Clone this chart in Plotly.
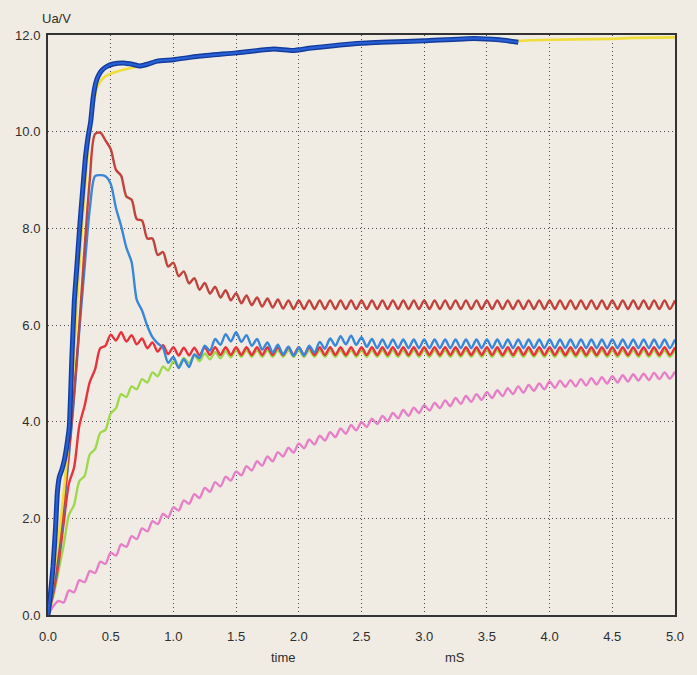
import plotly.graph_objects as go

# shared time grid for rippled traces (ms)
T = [0, 0.042, 0.083, 0.125, 0.167, 0.208, 0.25, 0.292, 0.333, 0.375,
     0.417, 0.458, 0.5, 0.542, 0.583, 0.625, 0.667, 0.708, 0.75, 0.792,
     0.833, 0.875, 0.917, 0.958, 1.0, 1.042, 1.083, 1.125, 1.167, 1.208,
     1.25, 1.292, 1.333, 1.375, 1.417, 1.458, 1.5, 1.542, 1.583, 1.625,
     1.667, 1.708, 1.75, 1.792, 1.833, 1.875, 1.917, 1.958, 2.0, 2.042,
     2.083, 2.125, 2.167, 2.208, 2.25, 2.292, 2.333, 2.375, 2.417, 2.458,
     2.5, 2.542, 2.583, 2.625, 2.667, 2.708, 2.75, 2.792, 2.833, 2.875,
     2.917, 2.958, 3.0, 3.042, 3.083, 3.125, 3.167, 3.208, 3.25, 3.292,
     3.333, 3.375, 3.417, 3.458, 3.5, 3.542, 3.583, 3.625, 3.667, 3.708,
     3.75, 3.792, 3.833, 3.875, 3.917, 3.958, 4.0, 4.042, 4.083, 4.125,
     4.167, 4.208, 4.25, 4.292, 4.333, 4.375, 4.417, 4.458, 4.5, 4.542,
     4.583, 4.625, 4.667, 4.708, 4.75, 4.792, 4.833, 4.875, 4.917, 4.958, 5.0]

pink = [0.0, 0.18, 0.29, 0.26, 0.51, 0.47, 0.72, 0.68, 0.91, 0.87,
        1.10, 1.06, 1.29, 1.23, 1.46, 1.41, 1.63, 1.57, 1.79, 1.73,
        1.94, 1.88, 2.09, 2.02, 2.23, 2.16, 2.37, 2.30, 2.50, 2.42,
        2.63, 2.55, 2.75, 2.66, 2.86, 2.78, 2.97, 2.89, 3.08, 2.99,
        3.18, 3.09, 3.28, 3.18, 3.37, 3.28, 3.46, 3.36, 3.55, 3.45,
        3.63, 3.53, 3.71, 3.61, 3.78, 3.68, 3.86, 3.75, 3.93, 3.82,
        3.99, 3.89, 4.06, 3.95, 4.12, 4.01, 4.18, 4.07, 4.24, 4.12,
        4.29, 4.18, 4.34, 4.23, 4.39, 4.28, 4.44, 4.32, 4.49, 4.37,
        4.53, 4.41, 4.57, 4.45, 4.61, 4.49, 4.65, 4.53, 4.69, 4.57,
        4.73, 4.60, 4.76, 4.64, 4.79, 4.67, 4.83, 4.70, 4.85, 4.72,
        4.86, 4.73, 4.88, 4.75, 4.90, 4.77, 4.92, 4.79, 4.94, 4.81,
        4.96, 4.83, 4.98, 4.85, 4.99, 4.86, 5.01, 4.88, 5.02, 4.89, 5.04]

green = [0.0, 0.38, 0.90, 1.44, 2.07, 2.28, 2.77, 2.88, 3.32, 3.43,
         3.77, 3.83, 4.17, 4.28, 4.57, 4.51, 4.73, 4.67, 4.88, 4.81,
         5.02, 4.94, 5.14, 5.06, 5.25, 5.15, 5.32, 5.21, 5.37, 5.25,
         5.41, 5.29, 5.44, 5.31, 5.46, 5.33, 5.48, 5.34, 5.48, 5.34,
         5.48, 5.34, 5.48, 5.34, 5.48, 5.34, 5.48, 5.34, 5.48, 5.34,
         5.48, 5.34, 5.48, 5.34, 5.48, 5.34, 5.48, 5.34, 5.48, 5.34,
         5.48, 5.34, 5.48, 5.34, 5.48, 5.34, 5.48, 5.34, 5.48, 5.34,
         5.48, 5.34, 5.48, 5.34, 5.48, 5.34, 5.48, 5.34, 5.48, 5.34,
         5.48, 5.34, 5.48, 5.34, 5.48, 5.34, 5.48, 5.34, 5.48, 5.34,
         5.48, 5.34, 5.48, 5.34, 5.48, 5.34, 5.48, 5.34, 5.48, 5.34,
         5.48, 5.34, 5.48, 5.34, 5.48, 5.34, 5.48, 5.34, 5.48, 5.34,
         5.48, 5.34, 5.48, 5.34, 5.48, 5.34, 5.48, 5.34, 5.48, 5.34, 5.48]

red = [0.0, 0.45, 1.05, 1.90, 2.72, 3.05, 3.92, 4.33, 4.82, 5.08,
       5.52, 5.57, 5.80, 5.68, 5.85, 5.66, 5.79, 5.60, 5.72, 5.52,
       5.64, 5.45, 5.58, 5.40, 5.54, 5.37, 5.53, 5.37, 5.53, 5.37,
       5.54, 5.38, 5.54, 5.38, 5.54, 5.38, 5.54, 5.38, 5.54, 5.38,
       5.54, 5.38, 5.54, 5.38, 5.54, 5.38, 5.54, 5.38, 5.54, 5.38,
       5.54, 5.38, 5.54, 5.38, 5.54, 5.38, 5.54, 5.38, 5.54, 5.38,
       5.54, 5.38, 5.54, 5.38, 5.54, 5.38, 5.54, 5.38, 5.54, 5.38,
       5.54, 5.38, 5.54, 5.38, 5.54, 5.38, 5.54, 5.38, 5.54, 5.38,
       5.54, 5.38, 5.54, 5.38, 5.54, 5.38, 5.54, 5.38, 5.54, 5.38,
       5.54, 5.38, 5.54, 5.38, 5.54, 5.38, 5.54, 5.38, 5.54, 5.38,
       5.54, 5.38, 5.54, 5.38, 5.54, 5.38, 5.54, 5.38, 5.54, 5.38,
       5.54, 5.38, 5.54, 5.38, 5.54, 5.38, 5.54, 5.38, 5.54, 5.38, 5.54]

light_blue = [0.0, 0.50, 1.20, 2.20, 3.30, 4.50, 5.90, 7.20, 8.40, 9.08,
              9.10, 9.08, 8.92, 8.42, 8.05, 7.60, 7.30, 6.52, 6.30, 5.98,
              5.75, 5.62, 5.53, 5.22, 5.34, 5.11, 5.29, 5.13, 5.39, 5.31,
              5.57, 5.47, 5.71, 5.59, 5.81, 5.66, 5.85, 5.65, 5.79, 5.57,
              5.71, 5.49, 5.64, 5.43, 5.59, 5.39, 5.55, 5.36, 5.54, 5.37,
              5.57, 5.43, 5.65, 5.51, 5.72, 5.57, 5.77, 5.60, 5.78, 5.59,
              5.75, 5.55, 5.71, 5.52, 5.70, 5.52, 5.70, 5.52, 5.70, 5.52,
              5.70, 5.52, 5.70, 5.52, 5.70, 5.52, 5.70, 5.52, 5.70, 5.52,
              5.70, 5.52, 5.70, 5.52, 5.70, 5.52, 5.70, 5.52, 5.70, 5.52,
              5.70, 5.52, 5.70, 5.52, 5.70, 5.52, 5.70, 5.52, 5.70, 5.52,
              5.70, 5.52, 5.70, 5.52, 5.70, 5.52, 5.70, 5.52, 5.70, 5.52,
              5.70, 5.52, 5.70, 5.52, 5.70, 5.52, 5.70, 5.52, 5.70, 5.52, 5.70]

dark_red = [0.0, 0.55, 1.30, 2.30, 3.40, 4.60, 6.00, 7.60, 9.00, 9.95,
            9.98, 9.82, 9.64, 9.21, 9.09, 8.66, 8.59, 8.19, 8.16, 7.79,
            7.79, 7.45, 7.51, 7.21, 7.29, 7.01, 7.11, 6.86, 6.97, 6.73,
            6.87, 6.65, 6.79, 6.57, 6.72, 6.51, 6.66, 6.45, 6.61, 6.41,
            6.57, 6.38, 6.55, 6.36, 6.53, 6.34, 6.51, 6.33, 6.51, 6.33,
            6.51, 6.33, 6.51, 6.33, 6.51, 6.33, 6.51, 6.33, 6.51, 6.33,
            6.51, 6.33, 6.51, 6.33, 6.51, 6.33, 6.51, 6.33, 6.51, 6.33,
            6.51, 6.33, 6.51, 6.33, 6.51, 6.33, 6.51, 6.33, 6.51, 6.33,
            6.51, 6.33, 6.51, 6.33, 6.51, 6.33, 6.51, 6.33, 6.51, 6.33,
            6.51, 6.33, 6.51, 6.33, 6.51, 6.33, 6.51, 6.33, 6.51, 6.33,
            6.51, 6.33, 6.51, 6.33, 6.51, 6.33, 6.51, 6.33, 6.51, 6.33,
            6.51, 6.33, 6.51, 6.33, 6.51, 6.33, 6.51, 6.33, 6.51, 6.33, 6.51]

yellow_t = [0, 0.03, 0.06, 0.09, 0.12, 0.15, 0.18, 0.21, 0.24, 0.27, 0.30,
            0.33, 0.36, 0.39, 0.42, 0.46, 0.5, 0.6, 0.7, 0.8, 0.9, 1.0,
            1.2, 1.5, 1.8, 1.95, 2.1, 2.5, 3.0, 3.4, 3.6, 3.75, 3.85, 4.2,
            4.5, 4.65, 5.0]
yellow_v = [0, 0.5, 1.1, 1.7, 2.4, 3.2, 4.2, 5.5, 6.8, 8.0, 9.0,
            9.9, 10.5, 10.9, 11.05, 11.15, 11.2, 11.28, 11.34, 11.4, 11.46, 11.5,
            11.56, 11.63, 11.7, 11.68, 11.72, 11.83, 11.88, 11.92, 11.9, 11.88, 11.89, 11.91,
            11.92, 11.94, 11.95]

blue_t = [0, 0.02, 0.04, 0.06, 0.075, 0.09, 0.11, 0.13, 0.15, 0.17, 0.19,
          0.21, 0.23, 0.255, 0.28, 0.3, 0.32, 0.34, 0.36, 0.38, 0.40, 0.43,
          0.47, 0.52, 0.6, 0.68, 0.73, 0.8, 0.87, 1.0, 1.2, 1.5, 1.8, 1.95,
          2.1, 2.5, 3.0, 3.4, 3.6, 3.75]
blue_v = [0, 0.45, 1.0, 1.8, 2.55, 2.85, 3.0, 3.2, 3.5, 3.9, 5.3,
          6.5, 7.2, 8.1, 8.9, 9.5, 9.9, 10.2, 10.7, 11.0, 11.15, 11.27,
          11.35, 11.4, 11.42, 11.39, 11.36, 11.4, 11.46, 11.49, 11.56, 11.63, 11.71, 11.68,
          11.73, 11.83, 11.88, 11.93, 11.9, 11.85]

y_ticks = [0, 2, 4, 6, 8, 10, 12]
x_ticks = [0, 0.5, 1.0, 1.5, 2.0, 2.5, 3.0, 3.5, 4.0, 4.5, 5.0]

BG = "#f0ece3"
fig = go.Figure()

def rip(y, color, width=2.4):
    fig.add_trace(go.Scatter(x=T, y=y, mode="lines",
                             line=dict(color=color, width=width, shape="spline", smoothing=0.8),
                             hoverinfo="skip", showlegend=False))

rip(pink, "#e67fc8")
rip(green, "#9fd84e")
rip(red, "#e8323c")
rip(light_blue, "#3a86d8")
rip(dark_red, "#c0433d")

fig.add_trace(go.Scatter(x=yellow_t, y=yellow_v, mode="lines",
                         line=dict(color="#f0dc3a", width=2.6, shape="spline", smoothing=0.5),
                         hoverinfo="skip", showlegend=False))
fig.add_trace(go.Scatter(x=blue_t, y=blue_v, mode="lines",
                         line=dict(color="#123c9c", width=5, shape="spline", smoothing=0.5),
                         hoverinfo="skip", showlegend=False))
fig.add_trace(go.Scatter(x=blue_t, y=blue_v, mode="lines",
                         line=dict(color="#2a60d6", width=2.2, shape="spline", smoothing=0.5),
                         hoverinfo="skip", showlegend=False))

font = dict(family="Liberation Sans Narrow, Liberation Sans, Arial", size=13, color="#2e2e2e")

grid = dict(showgrid=True, gridcolor="#4a4a4a", griddash="1px,3px", gridwidth=1,
            zeroline=False, showline=True, linecolor="#333333", linewidth=2,
            mirror=True, ticks="", fixedrange=True)

fig.update_layout(
    width=697, height=675,
    margin=dict(l=48, r=22, t=35, b=60),
    paper_bgcolor=BG, plot_bgcolor=BG,
    font=font,
    showlegend=False,
    xaxis=dict(range=[0, 5.0], tickvals=x_ticks, tickformat=".1f",
               ticklabelstandoff=8, **grid),
    yaxis=dict(range=[0, 12.0], tickvals=y_ticks, tickformat=".1f",
               ticklabelstandoff=3, **grid),
    annotations=[
        dict(text="Ua/V", x=-0.013, y=1.045, xref="paper", yref="paper",
             showarrow=False, font=font),
        dict(text="time", x=0.375, y=-0.09, xref="paper", yref="paper",
             showarrow=False, font=font),
        dict(text="mS", x=0.649, y=-0.09, xref="paper", yref="paper",
             showarrow=False, font=font),
    ],
)

fig.write_html("out.html")
